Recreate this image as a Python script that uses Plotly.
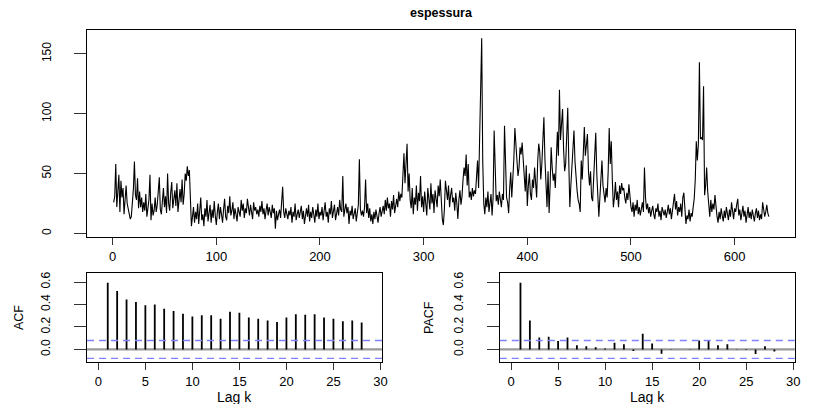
import numpy as np
import plotly.graph_objects as go

title = "espessura"

series = [
    26, 31, 58, 22, 35, 49, 18, 44, 30, 38, 16, 27, 40, 25, 21, 15, 12, 14, 24, 37,
    60, 32, 28, 46, 21, 35, 22, 30, 18, 26, 19, 33, 14, 22, 28, 49, 11, 25, 15, 19,
    30, 18, 24, 35, 47, 20, 16, 27, 38, 22, 31, 17, 50, 25, 19, 34, 43, 21, 29, 36,
    23, 42, 18, 30, 37, 26, 45, 24, 33, 50, 44, 56, 48, 53, 28, 6, 14, 22, 9, 18,
    12, 25, 8, 19, 30, 11, 16, 6, 21, 14, 28, 10, 17, 24, 9, 20, 13, 27, 15, 7,
    18, 25, 12, 22, 16, 9, 20, 29, 14, 11, 23, 17, 31, 15, 19, 26, 12, 21, 16, 10,
    22, 18, 14, 28, 19, 25, 13, 21, 17, 29, 20, 15, 24, 18, 12, 26, 19, 22, 16, 20,
    14, 23, 18, 27, 16, 21, 12, 19, 25, 15, 22, 18, 13, 24, 17, 21, 4, 19, 11, 16,
    20, 13, 28, 39, 18, 13, 21, 17, 12, 19, 15, 22, 9, 18, 14, 25, 11, 16, 20, 13,
    17, 23, 12, 19, 8, 15, 21, 14, 24, 10, 18, 13, 22, 16, 9, 20, 14, 25, 12, 18,
    15, 22, 11, 19, 26, 14, 18, 9, 21, 16, 27, 13, 19, 24, 11, 17, 22, 15, 28, 20,
    18, 48, 14, 20, 25, 17, 22, 8, 19, 15, 23, 12, 17, 21, 10, 18, 24, 62, 20, 15,
    19, 14, 22, 45, 17, 25, 13, 21, 10, 16, 8, 18, 12, 20, 15, 9, 17, 22, 14, 19,
    23, 16, 28, 19, 30, 21, 25, 14, 27, 20, 32, 17, 26, 29, 22, 35, 27, 33, 30, 44,
    67, 42, 58, 75, 35, 50, 28, 21, 38, 16, 30, 24, 40, 19, 34, 27, 48, 22, 31, 18,
    35, 26, 15, 38, 29, 20, 42, 25, 33, 17, 36, 28, 22, 40, 31, 45, 24, 12, 7, 20,
    44, 35, 28, 40, 22, 32, 38, 26, 30, 19, 34, 25, 12, 28, 36, 24, 31, 45, 55, 48,
    66, 40, 58, 30, 35, 28, 38, 31, 36, 33, 45, 61, 38, 78, 110, 163, 60, 25, 16, 30,
    22, 35, 18, 28, 33, 15, 30, 86, 40, 27, 32, 24, 35, 29, 22, 33, 28, 90, 45, 30,
    26, 17, 38, 51, 30, 45, 62, 88, 70, 61, 48, 55, 72, 66, 76, 58, 44, 35, 57, 23,
    40, 50, 33, 28, 45, 38, 55, 42, 30, 60, 75, 68, 45, 58, 80, 97, 62, 35, 22, 52,
    17, 40, 72, 55, 44, 50, 38, 62, 85, 65, 120, 78, 95, 104, 70, 52, 58, 80, 105, 60,
    22, 40, 58, 70, 86, 60, 45, 36, 28, 25, 18, 61, 45, 70, 89, 65, 75, 83, 52, 40,
    52, 30, 27, 45, 62, 84, 50, 25, 14, 30, 45, 61, 40, 33, 26, 38, 30, 52, 88, 58,
    77, 45, 22, 30, 43, 28, 35, 22, 40, 33, 42, 36, 38, 30, 25, 34, 28, 41, 30, 22,
    18, 26, 14, 24, 19, 28, 16, 22, 15, 20, 26, 18, 55, 30, 20, 25, 17, 22, 14, 19,
    23, 16, 12, 21, 18, 25, 14, 19, 11, 22, 17, 15, 20, 13, 18, 24, 16, 21, 12, 19,
    26, 33, 20, 27, 15, 22, 18, 25, 14, 30, 34, 19, 8, 15, 12, 20, 10, 17, 14, 22,
    29, 45, 77, 61, 75, 143, 79, 80, 78, 123, 32, 40, 55, 35, 22, 14, 28, 18, 25, 20,
    32, 20, 14, 9, 18, 12, 21, 15, 10, 19, 13, 22, 17, 11, 20, 14, 26, 16, 12, 21,
    18, 24, 29, 15, 20, 11, 17, 23, 14, 19, 9, 16, 22, 13, 18, 12, 20, 15, 10, 17,
    21, 13, 19, 11, 16, 12, 26, 20, 14, 18, 24, 17, 14,
]
time_index = list(range(1, len(series) + 1))

lags = list(range(1, 29))
acf_vals = [0.594, 0.52, 0.445, 0.422, 0.392, 0.40, 0.362, 0.342, 0.318, 0.294,
            0.303, 0.303, 0.273, 0.336, 0.327, 0.285, 0.273, 0.258, 0.244, 0.285,
            0.312, 0.309, 0.312, 0.285, 0.273, 0.25, 0.258, 0.24]
pacf_vals = [0.594, 0.258, 0.107, 0.113, 0.074, 0.107, 0.036, 0.027, 0.02, 0.009,
             0.06, 0.045, -0.015, 0.14, 0.053, -0.039, 0.002, 0.001, -0.003, 0.08,
             0.08, 0.036, 0.045, 0.002, -0.005, -0.04, 0.027, -0.018]

main_xticks = [0, 100, 200, 300, 400, 500, 600]
main_yticks = [0, 50, 100, 150]
lag_ticks = [0, 5, 10, 15, 20, 25, 30]
cf_yticks = [0.0, 0.2, 0.4, 0.6]
cf_yticklabels = ["0.0", "0.2", "0.4", "0.6"]

conf = 2 / np.sqrt(len(series))

W, H = 813, 404
def px(x):
    return x / W
def py(y):
    return 1 - y / H

FONT = "Liberation Sans, Arial, Helvetica, sans-serif"

fig = go.Figure()
fig.add_trace(go.Scatter(x=time_index, y=series, mode="lines",
                         line=dict(color="black", width=1.1), xaxis="x", yaxis="y",
                         hoverinfo="skip"))

def stems(lg, vals):
    xs, ys = [], []
    for k, v in zip(lg, vals):
        xs += [k, k, None]
        ys += [0, v, None]
    return xs, ys

sx, sy = stems(lags, acf_vals)
fig.add_trace(go.Scatter(x=sx, y=sy, mode="lines", line=dict(color="black", width=1.8),
                         xaxis="x2", yaxis="y2", hoverinfo="skip"))
sx, sy = stems(lags, pacf_vals)
fig.add_trace(go.Scatter(x=sx, y=sy, mode="lines", line=dict(color="black", width=1.8),
                         xaxis="x3", yaxis="y3", hoverinfo="skip"))

shapes = []
for xa, ya in (("x2", "y2"), ("x3", "y3")):
    shapes.append(dict(type="line", xref=f"{xa} domain", yref=ya, x0=0, x1=1, y0=0, y1=0,
                       line=dict(color="#9a9a9a", width=2.2), layer="below"))
    for c in (conf, -conf):
        shapes.append(dict(type="line", xref=f"{xa} domain", yref=ya, x0=0, x1=1, y0=c, y1=c,
                           line=dict(color="#8080ff", width=1.3, dash="7px,5px"), layer="above"))

base = dict(showline=True, mirror=True, linecolor="black", linewidth=1,
            ticks="outside", tickcolor="#333", showgrid=False, zeroline=False)
xfont = dict(family=FONT, size=13, color="black")
yfont = dict(family=FONT, size=12, color="black")
xax = dict(ticklen=7, tickfont=xfont, **base)
yax = dict(ticklen=12, tickfont=yfont, tickangle=-90, ticklabelstandoff=19, **base)

fig.update_layout(
    width=W, height=H, margin=dict(l=0, r=0, t=0, b=0),
    paper_bgcolor="white", plot_bgcolor="white", showlegend=False,
    shapes=shapes,
    xaxis=dict(domain=[px(88), px(801)], range=[-24.4, 658.3], tickvals=main_xticks,
               anchor="y", **xax),
    yaxis=dict(domain=[py(236.5), py(29)], range=[-2.9, 170], tickvals=main_yticks,
               anchor="x", **yax),
    xaxis2=dict(domain=[px(87.7), px(385)], range=[-1.2, 30.18], tickvals=lag_ticks,
                anchor="y2", **xax),
    yaxis2=dict(domain=[py(362), py(272.7)], range=[-0.113, 0.68], tickvals=cf_yticks,
                ticktext=cf_yticklabels, anchor="x2", **yax),
    xaxis3=dict(domain=[px(503.5), px(800.8)], range=[-1.2, 30.18], tickvals=lag_ticks,
                anchor="y3", **xax),
    yaxis3=dict(domain=[py(362), py(272.7)], range=[-0.113, 0.68], tickvals=cf_yticks,
                ticktext=cf_yticklabels, anchor="x3", **yax),
    annotations=[
        dict(text="<b>" + title + "</b>", x=px(444.5), y=py(12), xref="paper", yref="paper",
             showarrow=False, font=dict(family=FONT, size=12.5, color="black"),
             xanchor="center", yanchor="middle"),
        dict(text="Lag k", x=px(236), y=py(397), xref="paper", yref="paper",
             showarrow=False, font=dict(family=FONT, size=14, color="black"),
             xanchor="center", yanchor="middle"),
        dict(text="Lag k", x=px(652), y=py(397), xref="paper", yref="paper",
             showarrow=False, font=dict(family=FONT, size=14, color="black"),
             xanchor="center", yanchor="middle"),
        dict(text="ACF", x=px(19), y=py(317), xref="paper", yref="paper", textangle=-90,
             showarrow=False, font=dict(family=FONT, size=12.5, color="black"),
             xanchor="center", yanchor="middle"),
        dict(text="PACF", x=px(432), y=py(317), xref="paper", yref="paper", textangle=-90,
             showarrow=False, font=dict(family=FONT, size=12.5, color="black"),
             xanchor="center", yanchor="middle"),
    ],
)

fig.write_html("out.html", config={"displayModeBar": False},
               post_script="document.body.style.margin='0';document.body.style.padding='0';")
